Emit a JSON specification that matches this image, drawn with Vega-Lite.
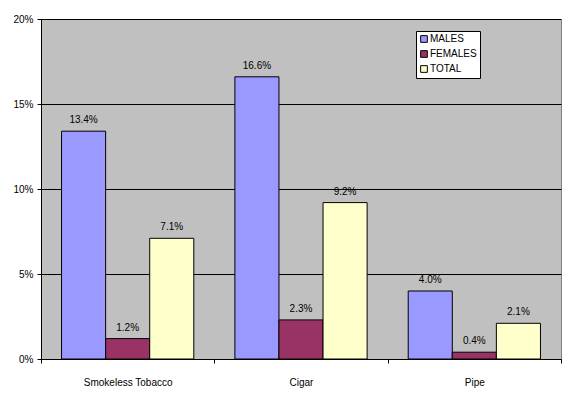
{
  "$schema": "https://vega.github.io/schema/vega-lite/v6.json",
  "width": 520,
  "height": 340,
  "autosize": {"type": "none"},
  "padding": {"left": 41, "top": 19, "right": 16, "bottom": 35},
  "background": "white",
  "config": {
    "font": "Liberation Sans",
    "view": {"fill": "#C0C0C0", "stroke": "#808080", "strokeWidth": 1},
    "axis": {"labelFont": "Liberation Sans", "labelFontSize": 10, "labelColor": "black", "domainColor": "black", "tickColor": "black"}
  },
  "data": {
    "values": [
      {"category": "Smokeless Tobacco", "group": "MALES", "value": 0.134},
      {"category": "Smokeless Tobacco", "group": "FEMALES", "value": 0.012},
      {"category": "Smokeless Tobacco", "group": "TOTAL", "value": 0.071},
      {"category": "Cigar", "group": "MALES", "value": 0.166},
      {"category": "Cigar", "group": "FEMALES", "value": 0.023},
      {"category": "Cigar", "group": "TOTAL", "value": 0.092},
      {"category": "Pipe", "group": "MALES", "value": 0.040},
      {"category": "Pipe", "group": "FEMALES", "value": 0.004},
      {"category": "Pipe", "group": "TOTAL", "value": 0.021}
    ]
  },
  "encoding": {
    "x": {
      "field": "category", "type": "nominal", "sort": null,
      "scale": {"paddingInner": 0, "paddingOuter": 0},
      "axis": {"title": null, "labelAngle": 0, "tickBand": "extent", "tickSize": 4, "labelPadding": 14, "grid": false, "domainWidth": 1}
    },
    "xOffset": {
      "field": "group", "type": "nominal",
      "scale": {"domain": ["MALES", "FEMALES", "TOTAL"], "paddingInner": 0, "paddingOuter": 0.466}
    },
    "y": {
      "field": "value", "type": "quantitative",
      "scale": {"domain": [0, 0.2], "nice": false},
      "axis": {"title": null, "format": ".0%", "values": [0, 0.05, 0.1, 0.15, 0.2], "grid": true, "gridColor": "black", "gridOpacity": 1, "gridWidth": 1, "tickSize": 4, "labelPadding": 4}
    }
  },
  "layer": [
    {
      "mark": {"type": "bar", "stroke": "black", "strokeWidth": 1},
      "encoding": {
        "color": {
          "field": "group", "type": "nominal",
          "scale": {"domain": ["MALES", "FEMALES", "TOTAL"], "range": ["#9999FF", "#993366", "#FFFFCC"]},
          "legend": {
            "title": null, "orient": "none", "legendX": 375, "legendY": 12,
            "fillColor": "white", "strokeColor": "black", "padding": 3,
            "symbolType": "square", "symbolSize": 45, "symbolStrokeColor": "black", "symbolStrokeWidth": 1,
            "labelFontSize": 10, "labelFont": "Liberation Sans", "labelColor": "black", "labelOffset": 1, "rowPadding": 3
          }
        }
      }
    },
    {
      "mark": {"type": "text", "baseline": "bottom", "dy": -6, "fontSize": 10, "color": "black"},
      "encoding": {
        "text": {"field": "value", "type": "quantitative", "format": ".1%"}
      }
    }
  ]
}
